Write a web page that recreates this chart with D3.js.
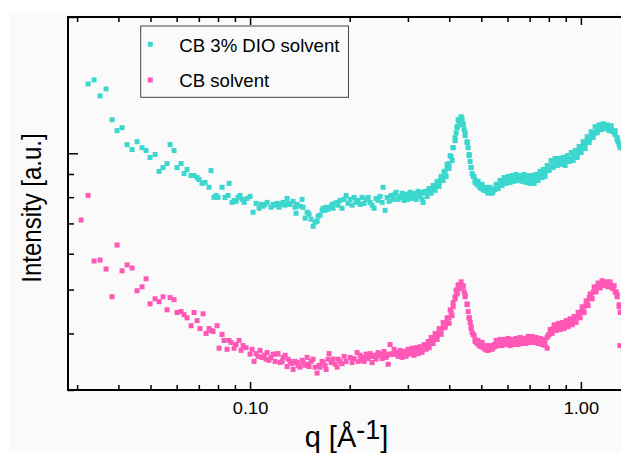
<!DOCTYPE html>
<html><head><meta charset="utf-8">
<script src="https://cdn.jsdelivr.net/npm/d3@7"></script>
<style>
body{margin:0;background:#fff}
text{font-family:"Liberation Sans",Arial,Helvetica,sans-serif;fill:#000}
</style>
</head><body>
<svg id="chart" width="621" height="453"></svg>
<script>
// ---- data ----
const seriesNames = ["CB 3% DIO solvent", "CB solvent"];
const seriesColors = ["#3bd7cf", "#fe58b6"];

// individual points
const dioQ = [0.03238,0.03376,0.03520,0.03670,0.03826,0.03962,0.04102,0.04248,0.04398,0.04554,0.04715,0.04848,0.04985,0.05162,0.05308,0.05457,0.05612,0.05730,0.05892,0.06016,0.06186,0.06316,0.06450,0.06632,0.06772,0.06915,0.07012,0.07160,0.07311,0.07517,0.07622,0.07783,0.07893,0.08003,0.08229,0.08403,0.08580,0.08640,0.08822,0.08946,0.09072,0.09199,0.09328,0.09458,0.09591,0.09794,0.1000,0.1021,0.1043,0.1065,0.1080,0.1095,0.1110,0.1126,0.1157,0.1174,0.1190,0.1207,0.1224,0.1241,0.1258,0.1276,0.1294,0.1303,0.1321,0.1349,0.1368,0.1377,0.1387,0.1416,0.1436,0.1446,0.1467,0.1487,0.1498,0.1508,0.1529,0.1551,0.1572,0.1594,0.1606,0.1628,0.1651,0.1662,0.1686,0.1698,0.1721,0.1745,0.1770,0.1782,0.1807,0.1833,
0.1845,0.1871,0.1897,0.1924,0.1951,0.1978,0.2006,0.2034,0.2063,0.2092,0.2121,0.2151,0.2181,0.2212,0.2243,0.2274,0.2306,0.2338,0.2371,0.2404,0.2438,0.2472,0.2507,0.2524,0.2560,0.2596,0.2632,0.2669,0.2706,0.2744,0.2763,0.2802,0.2841,0.2881,0.2922,0.2963,0.3004,0.3046,0.3089,0.3132,0.3176,0.3221,0.3266,0.3312,0.3335,0.3382,0.3429,0.3477,0.3526,0.3575,0.3626,0.3676,0.3728,0.3780,0.3833,0.3860,0.3914,0.3941,0.3997,0.4025,0.4081,0.4110,0.4167,0.4196,0.4226,0.4255,0.4285,0.4345,0.4375,0.4406,0.4437,0.4468,0.4530,0.4562,0.4594,0.4626,0.4658,0.4691,0.4756,0.4790,0.4857,0.4891,0.4959,0.5029,0.5099,0.5171,0.5243,0.5317,0.5391,0.5467,0.5544,0.5622,0.5700,0.5780,0.5861,0.5943,0.6027,0.6111,0.6197,0.6284,0.6372,0.6461,0.6552,0.6644,0.6737,0.6831,0.6927,0.7024,0.7123,0.7223,0.7324,0.7427,0.7531,0.7636,0.7690,0.7798,0.7907,0.8018,0.8130,0.8244,0.8360,0.8477,0.8596,0.8716,0.8838,0.8962,0.9088,0.9216,0.9345,0.9476,0.9609,0.9744,0.9880,1.0018,1.0159,1.0301,1.0446,1.0593,1.0741,1.0891,1.1044,1.1199,1.1356,1.1515,1.1676,1.1840,1.2007,1.2175,1.2346,1.2519,1.2695,1.2873,1.2963,1.3144];
const dioI = [1423,1452,1339,1387,1186,1122,1139,1045,1019,1061,1029,1014,979,994,912,930,949,1045,1014,930,949,902,921,893,893,884,875,858,862,841,916,799,807,799,841,799,807,858,779,787,783,799,807,791,779,795,803,741,775,756,771,764,771,779,760,771,768,775,760,771,779,768,795,775,771,783,760,737,771,764,791,760,719,741,737,733,715,690,704,708,726,730,748,756,748,760,752,760,771,756,775,779,
768,787,756,791,807,775,791,768,799,779,787,771,799,775,791,799,779,768,756,795,787,803,779,841,748,799,783,807,791,812,820,791,799,816,787,812,791,820,795,816,791,824,803,791,779,824,803,836,816,849,828,867,845,889,871,912,889,945,926,988,964,1029,1066,1110,1145,1186,1156,1204,1192,1156,1128,1094,1061,1029,988,959,930,902,889,871,854,867,841,854,828,841,816,841,816,832,854,836,871,849,884,858,889,862,893,867,898,871,893,867,898,862,893,858,893,858,898,871,912,884,921,889,940,916,964,930,974,940,974,945,979,940,988,959,1004,964,1014,979,1035,1004,1061,1024,1088,1056,1116,1083,1145,1110,1156,1128,1162,1133,1156,1122,1151,1116,1122,1083,1061,1029];

// centre of the dense band (q > 0.28)
const dioBandQ = [0.28613,0.29014,0.29421,0.29834,0.30253,0.30676,0.31106,0.31543,0.31986,0.32434,0.32887,0.33349,0.33817,0.34291,0.34772,0.35259,0.35754,0.36255,0.36764,0.37280,0.37800,0.38331,0.38869,0.39414,0.39967,0.40526,0.41095,0.41672,0.42256,0.42849,0.43448,0.44057,0.44676,0.45302,0.45938,0.46580,0.47234,0.47897,0.48569,0.49251,0.49939,0.50640,0.51350,0.52071,0.52801,0.53540,0.54291,0.55053,0.55825,0.56609,0.57399,0.58205,0.59022,0.59850,0.60690,0.61538,0.62402,0.63277,0.64165,0.65065,0.65975,0.66901,0.67839,0.68791,0.69757,0.70732,0.71725,0.72731,0.73752,0.74787,0.75832,0.76896,0.77976,0.79070,0.80179,0.81299,0.82440,0.83597,0.84770,0.85959,0.87161,0.88384,0.89624,0.90882,0.92157,0.93446,0.94757,0.96087,0.97435,0.98802,1.0018,1.0159,1.0301,1.0446,1.0593,1.0741,1.0891,1.1044,1.1199,1.1356,1.1515,1.1676,1.1840,1.2007,1.2175,1.2346,1.2519,1.2695,1.2873,1.3053];
const dioBandI = [803,803,803,807,807,807,807,812,812,812,816,820,820,824,828,832,836,845,849,862,875,889,907,926,949,983,1029,1083,1139,1180,1198,1162,1110,1056,994,930,889,862,854,845,836,832,828,824,824,824,824,832,845,854,862,867,867,871,875,875,875,880,880,880,880,880,880,880,875,875,875,880,884,889,893,898,907,916,926,935,945,949,949,954,954,954,959,964,969,974,979,988,999,1014,1024,1035,1050,1061,1072,1088,1099,1110,1122,1128,1133,1139,1139,1139,1139,1128,1116,1099,1072,1045];

const cbQ = [0.03084,0.03238,0.03376,0.03520,0.03670,0.03826,0.03962,0.04102,0.04248,0.04398,0.04554,0.04715,0.04848,0.04985,0.05162,0.05308,0.05457,0.05612,0.05730,0.05892,0.06016,0.06186,0.06316,0.06450,0.06632,0.06772,0.06915,0.07061,0.07210,0.07362,0.07517,0.07622,0.07729,0.07948,0.08059,0.08229,0.08345,0.08521,0.08640,0.08761,0.08946,0.09072,0.09263,0.09393,0.09525,0.09726,0.1000,0.1014,0.1028,0.1043,0.1057,0.1072,0.1087,0.1102,0.1118,0.1126,0.1141,0.1157,0.1174,0.1190,0.1207,0.1215,0.1232,0.1250,0.1258,0.1276,0.1294,0.1303,0.1321,0.1340,0.1349,0.1368,0.1387,0.1397,0.1416,0.1436,0.1446,0.1467,0.1487,0.1498,0.1508,0.1529,0.1551,0.1572,0.1594,0.1617,0.1628,0.1651,0.1662,0.1686,0.1698,0.1721,0.1733,0.1758,0.1782,0.1807,0.1833,0.1845,0.1871,0.1897,0.1924,0.1951,0.2006,0.2034,0.2063,0.2106,0.2121,
0.2151,0.2181,0.2212,0.2243,0.2274,0.2306,0.2338,0.2371,0.2404,0.2438,0.2472,0.2507,0.2542,0.2578,0.2614,0.2650,0.2687,0.2725,0.2763,0.2802,0.2841,0.2881,0.2922,0.2963,0.3004,0.3046,0.3089,0.3132,0.3176,0.3221,0.3266,0.3312,0.3358,0.3405,0.3453,0.3477,0.3526,0.3575,0.3626,0.3676,0.3728,0.3780,0.3833,0.3887,0.3941,0.3997,0.4025,0.4081,0.4110,0.4167,0.4196,0.4226,0.4255,0.4285,0.4345,0.4375,0.4406,0.4437,0.4468,0.4530,0.4562,0.4594,0.4626,0.4658,0.4691,0.4756,0.4790,0.4857,0.4891,0.4959,0.5029,0.5099,0.5171,0.5243,0.5317,0.5391,0.5467,0.5544,0.5622,0.5700,0.5780,0.5861,0.5943,0.6027,0.6111,0.6197,0.6284,0.6372,0.6461,0.6552,0.6644,0.6737,0.6831,0.6927,0.7024,0.7123,0.7223,0.7324,0.7427,0.7531,0.7636,0.7690,0.7798,0.7907,0.7962,0.8074,0.8187,0.8302,0.8418,0.8536,0.8656,0.8777,0.8900,0.9025,0.9152,0.9280,0.9410,0.9542,0.9676,0.9812,0.9949,1.0088,1.0230,1.0373,1.0519,1.0666,1.0816,1.0967,1.1121,1.1277,1.1435,1.1595,1.1758,1.1923,1.2091,1.2260,1.2432,1.2606,1.2783,1.2873,1.3053,1.3144,1.3120];
const cbI = [712,807,578,581,555,482,627,550,567,558,497,507,528,465,477,470,482,451,480,475,445,447,440,433,416,445,427,410,442,400,410,406,404,416,371,398,386,369,386,382,371,378,386,367,376,372,360,369,347,361,356,367,354,358,351,363,349,354,360,347,360,361,345,347,354,358,338,351,347,343,333,347,345,340,337,349,345,340,354,342,338,347,351,337,327,340,337,347,345,340,333,351,361,345,351,342,337,351,347,343,356,347,354,345,352,363,347,
358,349,347,360,352,361,345,358,351,363,360,352,365,354,342,378,360,369,363,356,367,354,365,356,369,360,371,358,372,361,374,363,378,369,384,372,392,380,400,388,410,398,423,412,433,421,451,438,468,482,499,489,512,502,520,507,510,494,482,465,447,433,423,410,402,396,388,382,386,376,382,372,376,367,376,369,378,386,376,388,376,388,378,390,376,388,378,390,378,392,380,390,380,394,382,394,382,392,380,390,378,388,376,371,396,408,400,418,406,421,408,423,410,427,414,431,418,436,423,445,433,458,445,472,461,489,477,507,494,517,504,523,510,520,507,520,504,510,494,482,463,445,376];

const cbBandQ = [0.21658,0.21962,0.22271,0.22583,0.22900,0.23219,0.23545,0.23875,0.24211,0.24550,0.24894,0.25243,0.25597,0.25957,0.26321,0.26688,0.27063,0.27443,0.27828,0.28218,
0.28613,0.29014,0.29421,0.29834,0.30253,0.30676,0.31106,0.31543,0.31986,0.32434,0.32887,0.33349,0.33817,0.34291,0.34772,0.35259,0.35754,0.36255,0.36764,0.37280,0.37800,0.38331,0.38869,0.39414,0.39967,0.40526,0.41095,0.41672,0.42256,0.42849,0.43448,0.44057,0.44676,0.45302,0.45938,0.46580,0.47234,0.47897,0.48569,0.49251,0.49939,0.50640,0.51350,0.52071,0.52801,0.53540,0.54291,0.55053,0.55825,0.56609,0.57399,0.58205,0.59022,0.59850,0.60690,0.61538,0.62402,0.63277,0.64165,0.65065,0.65975,0.66901,0.67839,0.68791,0.69757,0.70732,0.71725,0.72731,0.73752,0.74787,0.75832,0.76896,0.77976,0.79070,0.80179,0.81299,0.82440,0.83597,0.84770,0.85959,0.87161,0.88384,0.89624,0.90882,0.92157,0.93446,0.94757,0.96087,0.97435,0.98802,1.0018,1.0159,1.0301,1.0446,1.0593,1.0741,1.0891,1.1044,1.1199,1.1356,1.1515,1.1676,1.1840,1.2007,1.2175,1.2346,1.2519,1.2695,1.2873,1.3053];
const cbBandI = [354,354,354,356,356,356,356,356,358,358,358,358,358,358,360,360,360,360,360,360,
360,361,361,361,363,363,363,365,365,365,367,371,374,378,380,384,388,392,396,400,406,412,416,423,433,445,458,477,492,505,512,507,487,463,433,414,398,384,380,376,374,372,369,367,369,371,372,374,376,378,380,380,380,380,380,380,380,382,382,382,382,384,384,384,386,386,386,386,384,384,382,382,386,392,398,404,410,412,412,414,414,414,416,420,423,425,427,431,436,440,447,454,460,470,480,487,494,502,507,510,512,515,515,512,512,510,502,494,487,458];

const xMinorTicks = [0.03,0.04,0.05,0.06,0.07,0.08,0.09,0.2,0.3,0.4,0.5,0.6,0.7,0.8,0.9];
const xMajorTicks = [0.1, 1];
const yMinorTicks = [300,400,500,600,700,800,900];
const yMajorTicks = [1000, 2000];

// ---- layout ----
const W = 621, H = 453;
const L = 68, T = 17, B = 390, R = 624;
const svg = d3.select('#chart');

svg.append('rect').attr('x', 9).attr('y', 12).attr('width', W - 9).attr('height', H - 12).attr('fill', '#fafafa');

const x = d3.scaleLog().domain([0.02816, 1.35]).range([L, R]);
const y = d3.scaleLog().domain([300, 2000]).range([B, T]);

svg.append('defs').append('clipPath').attr('id', 'clip')
  .append('rect').attr('x', L).attr('y', T).attr('width', W - L).attr('height', B - T);

// data points
const plot = svg.append('g').attr('clip-path', 'url(#clip)');
function drawSeries(qs, is, color) {
  plot.append('g').selectAll('rect').data(d3.zip(qs, is)).join('rect')
    .attr('x', d => x(d[0]) - 2.5).attr('y', d => y(d[1]) - 2.5)
    .attr('width', 5).attr('height', 5).attr('fill', color);
}
drawSeries(dioQ.concat(dioBandQ), dioI.concat(dioBandI), seriesColors[0]);
drawSeries(cbQ.concat(cbBandQ), cbI.concat(cbBandI), seriesColors[1]);

// axes (ticks inward)
function styleAxis(g) {
  g.select('.domain').remove();
  g.selectAll('line').attr('stroke', '#000').attr('stroke-width', 1.5);
}
svg.append('g').attr('transform', `translate(0,${B})`)
  .call(d3.axisBottom(x).tickValues(xMinorTicks).tickSize(-5).tickFormat('')).call(styleAxis);
const xb = svg.append('g').attr('transform', `translate(0,${B})`)
  .call(d3.axisBottom(x).tickValues(xMajorTicks).tickSize(-8).tickPadding(12.5).tickFormat(d3.format('.2f'))).call(styleAxis);
xb.selectAll('text').attr('fill', '#000').style('font-size', '16px')
  .style('font-family', '"Liberation Sans",Arial,sans-serif').attr('transform', 'scale(1.14,1)');

svg.append('g').attr('transform', `translate(0,${T})`)
  .call(d3.axisTop(x).tickValues(xMinorTicks).tickSize(-5).tickFormat('')).call(styleAxis);
svg.append('g').attr('transform', `translate(0,${T})`)
  .call(d3.axisTop(x).tickValues(xMajorTicks).tickSize(-8).tickFormat('')).call(styleAxis);

svg.append('g').attr('transform', `translate(${L},0)`)
  .call(d3.axisLeft(y).tickValues(yMinorTicks).tickSize(-6).tickFormat('')).call(styleAxis);
svg.append('g').attr('transform', `translate(${L},0)`)
  .call(d3.axisLeft(y).tickValues(yMajorTicks).tickSize(-10).tickFormat('')).call(styleAxis);

// frame
const frame = svg.append('g').attr('stroke', '#000').attr('stroke-width', 2);
frame.append('line').attr('x1', L).attr('x2', L).attr('y1', T - 1).attr('y2', B + 1);
frame.append('line').attr('x1', L - 1).attr('x2', W).attr('y1', T).attr('y2', T);
frame.append('line').attr('x1', L - 1).attr('x2', W).attr('y1', B).attr('y2', B);

// legend
const lg = svg.append('g');
lg.append('rect').attr('x', 140.7).attr('y', 26).attr('width', 207.8).attr('height', 71.3)
  .attr('fill', 'none').attr('stroke', '#444').attr('stroke-width', 1);
seriesNames.forEach((name, i) => {
  const cy = 44.3 + i * 35.7;
  lg.append('rect').attr('x', 150.3 - 2.5).attr('y', cy - 2.5).attr('width', 5).attr('height', 5).attr('fill', seriesColors[i]);
  lg.append('text').attr('x', 179.3).attr('y', cy + 7.2).style('font-size', '18.6px').text(name);
});

// axis titles
const xt = svg.append('text').attr('x', 346.5).attr('y', 446.5).attr('text-anchor', 'middle').style('font-size', '29px');
xt.append('tspan').text('q [Å');
xt.append('tspan').attr('dy', -7.6).style('font-size', '27px').text('-1');
xt.append('tspan').attr('dy', 7.6).text(']');

svg.append('text').attr('transform', 'translate(40.5,208) scale(1.12,1) rotate(-90)')
  .attr('text-anchor', 'middle').style('font-size', '24px').text('Intensity [a.u.]');
</script>
</body></html>
